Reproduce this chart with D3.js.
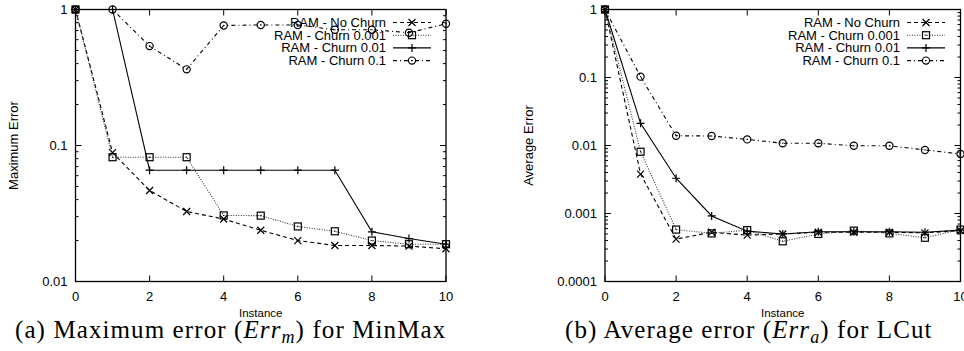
<!DOCTYPE html>
<html>
<head>
<meta charset="utf-8">
<script src="https://cdn.jsdelivr.net/npm/d3@7"></script>
<style>
  body { margin: 0; background: #fff; }
  svg { display: block; }
</style>
</head>
<body>
<div id="chart_div"></div>
<script>
// instances on the x axis
var instances = [0, 1, 2, 3, 4, 5, 6, 7, 8, 9, 10];
var seriesNames = ["RAM - No Churn", "RAM - Churn 0.001", "RAM - Churn 0.01", "RAM - Churn 0.1"];

// (a) maximum error for MinMax
var maxNoChurn   = [1, 0.0886, 0.0467, 0.0327, 0.0288, 0.0238, 0.0200, 0.0184, 0.0184, 0.0182, 0.0174];
var maxChurn001  = [1, 0.082, 0.082, 0.082, 0.0306, 0.0305, 0.0254, 0.0234, 0.0200, 0.0188, 0.0188];
var maxChurn01   = [1, 1, 0.0658, 0.0658, 0.0658, 0.0658, 0.0658, 0.0658, 0.0232, 0.0207, 0.0188];
var maxChurn1    = [1, 1, 0.538, 0.363, 0.763, 0.77, 0.77, 0.71, 0.71, 0.675, 0.785];

// (b) average error for LCut
var avgNoChurn   = [1, 0.0038, 0.00042, 0.00053, 0.00048, 0.00050, 0.00053, 0.00053, 0.00053, 0.00052, 0.00056];
var avgChurn001  = [1, 0.0081, 0.00058, 0.00051, 0.00057, 0.00039, 0.00050, 0.00056, 0.00051, 0.00044, 0.00058];
var avgChurn01   = [1, 0.0212, 0.0033, 0.00092, 0.00055, 0.00050, 0.00054, 0.00054, 0.00054, 0.00053, 0.00057];
var avgChurn1    = [1, 0.103, 0.0139, 0.0138, 0.0123, 0.0108, 0.0108, 0.0099, 0.0099, 0.0086, 0.0075];

var xTicks = [0, 2, 4, 6, 8, 10];
var maxYTicks = [0.01, 0.1, 1];
var avgYTicks = [0.0001, 0.001, 0.01, 0.1, 1];
var maxYLabels = ["0.01", "0.1", "1"];
var avgYLabels = ["0.0001", "0.001", "0.01", "0.1", "1"];

var W = 964, H = 351;
var svg = d3.select("#chart_div").append("svg")
    .attr("width", W).attr("height", H)
    .attr("viewBox", [0, 0, W, H])
    .style("font-family", "'Liberation Sans', Arial, sans-serif");

// line look for each series (gnuplot style)
var styles = [
  { dash: "4,3",      color: "#000", width: 1.1, marker: "cross" },
  { dash: "1,1.5",    color: "#333", width: 1.1, marker: "square" },
  { dash: null,       color: "#000", width: 1.1, marker: "plus" },
  { dash: "4,3,1,3",  color: "#000", width: 1.1, marker: "circle" }
];

function drawMarker(g, type, cx, cy) {
  if (type === "cross") {
    g.append("path").attr("d", `M${cx-3.5},${cy-3.5}L${cx+3.5},${cy+3.5}M${cx-3.5},${cy+3.5}L${cx+3.5},${cy-3.5}`)
      .attr("stroke", "#000").attr("stroke-width", 1.2);
  } else if (type === "plus") {
    g.append("path").attr("d", `M${cx-4},${cy}L${cx+4},${cy}M${cx},${cy-4}L${cx},${cy+4}`)
      .attr("stroke", "#000").attr("stroke-width", 1.2);
  } else if (type === "square") {
    g.append("rect").attr("x", cx - 3.5).attr("y", cy - 3.5).attr("width", 7).attr("height", 7)
      .attr("fill", "none").attr("stroke", "#000").attr("stroke-width", 1.2);
    g.append("rect").attr("x", cx - 0.6).attr("y", cy - 0.6).attr("width", 1.2).attr("height", 1.2).attr("fill", "#000");
  } else {
    g.append("circle").attr("cx", cx).attr("cy", cy).attr("r", 3.6)
      .attr("fill", "none").attr("stroke", "#000").attr("stroke-width", 1.2);
    g.append("rect").attr("x", cx - 0.6).attr("y", cy - 0.6).attr("width", 1.2).attr("height", 1.2).attr("fill", "#000");
  }
}

function drawPanel(opt) {
  var x = d3.scaleLinear().domain([0, 10]).range([opt.left, opt.right]);
  var y = d3.scaleLog().domain(opt.yDomain).range([opt.bottom, opt.top]);
  var g = svg.append("g");

  // minor log ticks (2..9 in each decade), both sides, inward
  var minors = [];
  opt.yTicks.forEach(function(t, i) {
    if (i < opt.yTicks.length - 1) for (var k = 2; k <= 9; k++) minors.push(t * k);
  });
  g.append("g").selectAll("path").data(minors).join("path")
    .attr("d", d => `M${opt.left},${y(d)}h3M${opt.right},${y(d)}h-3`)
    .attr("stroke", "#000").attr("stroke-width", 1);

  // major y ticks
  g.append("g").selectAll("path").data(opt.yTicks).join("path")
    .attr("d", d => `M${opt.left},${y(d)}h6M${opt.right},${y(d)}h-6`)
    .attr("stroke", "#000").attr("stroke-width", 1);
  g.append("g").selectAll("text").data(opt.yTicks).join("text")
    .attr("x", opt.left - 8).attr("y", d => y(d) + 4.5)
    .attr("text-anchor", "end").attr("font-size", 13)
    .text((d, i) => opt.yLabels[i]);

  // x ticks
  g.append("g").selectAll("path").data(xTicks).join("path")
    .attr("d", d => `M${x(d)},${opt.bottom}v-6M${x(d)},${opt.top}v6`)
    .attr("stroke", "#000").attr("stroke-width", 1);
  g.append("g").selectAll("text").data(xTicks).join("text")
    .attr("x", d => x(d)).attr("y", opt.bottom + 19)
    .attr("text-anchor", "middle").attr("font-size", 13)
    .text(d => d);

  // frame
  g.append("rect").attr("x", opt.left).attr("y", opt.top)
    .attr("width", opt.right - opt.left).attr("height", opt.bottom - opt.top)
    .attr("fill", "none").attr("stroke", "#000").attr("stroke-width", 1.3);

  // axis titles
  g.append("text").attr("x", (opt.left + opt.right) / 2).attr("y", opt.bottom + 35)
    .attr("text-anchor", "middle").attr("font-size", 11.5).text("Instance");
  g.append("text")
    .attr("transform", `translate(${opt.yLabelX},${(opt.top + opt.bottom) / 2}) rotate(-90)`)
    .attr("text-anchor", "middle").attr("font-size", 13).text(opt.yLabel);

  // series lines + markers
  var line = d3.line().x((d, i) => x(instances[i])).y(d => y(d));
  opt.series.forEach(function(vals, si) {
    var s = styles[si];
    g.append("path").attr("d", line(vals))
      .attr("fill", "none").attr("stroke", s.color).attr("stroke-width", s.width)
      .attr("stroke-dasharray", s.dash);
    var mg = g.append("g");
    vals.forEach((v, i) => drawMarker(mg, s.marker, x(instances[i]), y(v)));
  });

  // legend
  var lg = g.append("g");
  seriesNames.forEach(function(name, si) {
    var s = styles[si];
    var ly = opt.legendY + si * 12.7;
    lg.append("text").attr("x", opt.legendTextX).attr("y", ly + 4.5)
      .attr("text-anchor", "end").attr("font-size", 13).text(name);
    lg.append("line").attr("x1", opt.legendTextX + 7).attr("x2", opt.legendTextX + 45)
      .attr("y1", ly).attr("y2", ly)
      .attr("stroke", s.color).attr("stroke-width", s.width).attr("stroke-dasharray", s.dash);
    drawMarker(lg, s.marker, opt.legendTextX + 26, ly);
  });

  // caption
  var cap = g.append("text").attr("x", opt.capX).attr("y", 338)
    .attr("font-family", "'Liberation Serif', 'Times New Roman', serif").attr("font-size", 25)
    .attr("letter-spacing", 1.1);
  cap.append("tspan").text(opt.capPre);
  cap.append("tspan").attr("font-style", "italic").text("Err");
  cap.append("tspan").attr("font-style", "italic").attr("font-size", 18).attr("dy", 5).text(opt.capSub);
  cap.append("tspan").attr("dy", -5).text(opt.capPost);
}

drawPanel({
  left: 75.5, right: 446, top: 9.5, bottom: 281.5,
  yDomain: [0.01, 1], yTicks: maxYTicks, yLabels: maxYLabels, yLabel: "Maximum Error", yLabelX: 18,
  series: [maxNoChurn, maxChurn001, maxChurn01, maxChurn1],
  legendY: 22.5, legendTextX: 386,
  capX: 15, capPre: "(a)  Maximum error (", capSub: "m", capPost: ") for MinMax"
});

drawPanel({
  left: 605, right: 960.5, top: 9.5, bottom: 281.5,
  yDomain: [0.0001, 1], yTicks: avgYTicks, yLabels: avgYLabels, yLabel: "Average Error", yLabelX: 533,
  series: [avgNoChurn, avgChurn001, avgChurn01, avgChurn1],
  legendY: 22.5, legendTextX: 900,
  capX: 565, capPre: "(b)  Average error (", capSub: "a", capPost: ") for LCut"
});
</script>
</body>
</html>
